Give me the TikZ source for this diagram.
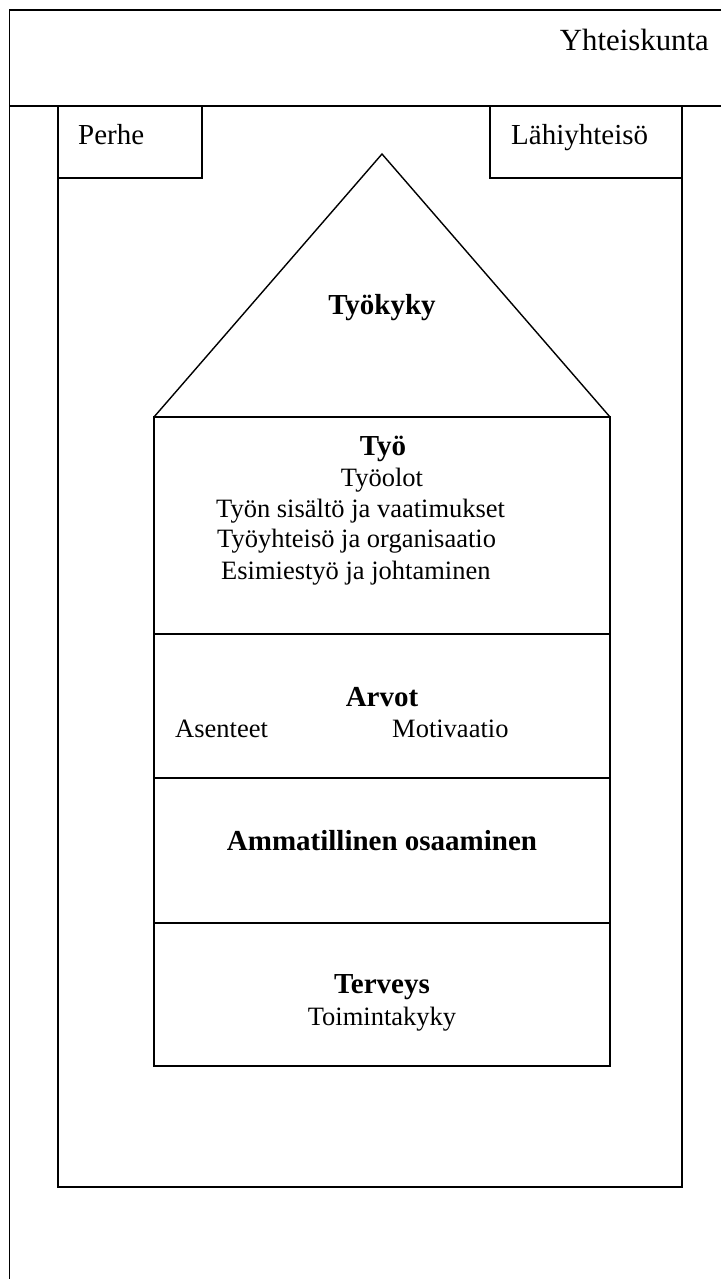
\documentclass[tikz,border=0pt]{standalone}
\usepackage{fontspec}
\setmainfont{Liberation Serif}
\begin{document}
\begin{tikzpicture}[x=1pt,y=-1pt,
  frame/.style={line width=1.4pt,line join=miter},
  txt/.style={inner sep=0pt,font=\fontsize{26.5}{30}\selectfont},
  btxt/.style={inner sep=0pt,font=\fontsize{29}{33}\selectfont\bfseries},
  ltxt/.style={inner sep=0pt,font=\fontsize{29}{33}\selectfont},
  htxt/.style={inner sep=0pt,font=\fontsize{30.8}{35}\selectfont}]
\useasboundingbox (0,0) rectangle (721,1279);
% society frame
\draw[frame] (721,10) -- (9.5,10) -- (9.5,1279);
\draw[frame] (9.5,106) -- (721,106);
% family and community boxes
\draw[frame] (58,106) rectangle (202,178);
\draw[frame] (490,106) rectangle (682,178);
\draw[frame] (58,178) -- (58,1187) -- (682,1187) -- (682,178);
% house
\draw[frame] (154,417) -- (382,154) -- (610,417);
\draw[frame] (154,417) rectangle (610,1066);
\draw[frame] (154,634) -- (610,634);
\draw[frame] (154,778) -- (610,778);
\draw[frame] (154,923) -- (610,923);
% texts
\node[htxt,anchor=base east] (yht) at (709,51) {Yhteiskunta};
\node[ltxt,anchor=base west] (perhe) at (78,144) {Perhe};
\node[ltxt,anchor=base west] (lahi) at (511,144) {Lähiyhteisö};
\node[btxt,anchor=base] (tyokyky) at (382,314) {Työkyky};
\node[btxt,anchor=base] (tyo) at (383,455) {Työ};
\node[txt,anchor=base] (tyoolot) at (382,486) {Työolot};
\node[txt,anchor=base west] (sisalto) at (216,517) {Työn sisältö ja vaatimukset};
\node[txt,anchor=base west] (yhteiso) at (217,547) {Työyhteisö ja organisaatio};
\node[txt,anchor=base west] (esimies) at (221,579) {Esimiestyö ja johtaminen};
\node[btxt,anchor=base] (arvot) at (382,706) {Arvot};
\node[txt,anchor=base west] (asenteet) at (175,737) {Asenteet};
\node[txt,anchor=base west] (motivaatio) at (392,737) {Motivaatio};
\node[btxt,anchor=base] (ammat) at (382,850) {Ammatillinen osaaminen};
\node[btxt,anchor=base] (terveys) at (382,993) {Terveys};
\node[txt,anchor=base] (toiminta) at (382,1025) {Toimintakyky};
\end{tikzpicture}
\end{document}
